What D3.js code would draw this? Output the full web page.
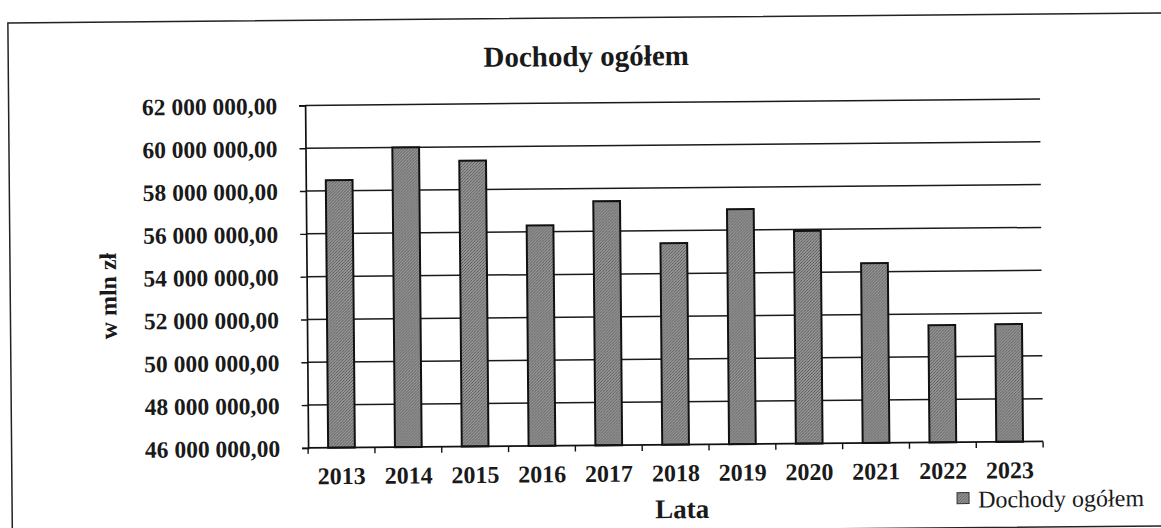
<!DOCTYPE html>
<html>
<head>
<meta charset="utf-8">
<script src="https://cdn.jsdelivr.net/npm/d3@7"></script>
<style>
  html, body { margin: 0; padding: 0; background: #fff; }
  svg { display: block; }
  text { font-family: "Liberation Serif", "Times New Roman", serif; fill: #1a1a1a; }
</style>
</head>
<body>
<svg id="chart" width="1161" height="528"></svg>
<script>
// ---- data ----
const years = ["2013", "2014", "2015", "2016", "2017", "2018", "2019", "2020", "2021", "2022", "2023"];
const dochody = [58500000, 60000000, 59350000, 56300000, 57400000, 55420000, 56980000, 55930000, 54400000, 51480000, 51500000];
const yTicks = [46000000, 48000000, 50000000, 52000000, 54000000, 56000000, 58000000, 60000000, 62000000];
const title = "Dochody ogółem";
const xTitle = "Lata";
const yTitle = "w mln zł";
const seriesName = "Dochody ogółem";

// ---- layout ----
const plot = { left: 306.5, right: 1041.5, top: 103, bottom: 445.5 };

const svg = d3.select("#chart");
const defs = svg.append("defs");
const pat = defs.append("pattern").attr("id", "stipple")
  .attr("width", 3).attr("height", 3).attr("patternUnits", "userSpaceOnUse");
pat.append("rect").attr("width", 3).attr("height", 3).attr("fill", "#969696");
pat.append("rect").attr("x", 0).attr("y", 0).attr("width", 1).attr("height", 1).attr("fill", "#555");
pat.append("rect").attr("x", 2).attr("y", 1).attr("width", 1).attr("height", 1).attr("fill", "#5e5e5e");
pat.append("rect").attr("x", 1).attr("y", 2).attr("width", 1).attr("height", 1).attr("fill", "#666");

// whole chart slightly rotated, like the scanned page
const g = svg.append("g").attr("transform", "rotate(-0.5, 580, 264)");

// outer frame
g.append("rect")
  .attr("x", 10).attr("y", 18).attr("width", 1185).attr("height", 513)
  .attr("fill", "none").attr("stroke", "#222").attr("stroke-width", 1.5);

const x = d3.scaleBand().domain(years)
  .range([plot.left, plot.right]).paddingInner(0.6).paddingOuter(0.3);
const y = d3.scaleLinear().domain([46000000, 62000000]).range([plot.bottom, plot.top]);

const pl = d3.formatLocale({ decimal: ",", thousands: " ", grouping: [3], currency: ["", ""] });
const fmt = pl.format(",.2f");

// gridlines
g.append("g").selectAll("line").data(yTicks.filter(d => d > 46000000)).join("line")
  .attr("x1", plot.left).attr("x2", plot.right)
  .attr("y1", d => y(d)).attr("y2", d => y(d))
  .attr("stroke", "#1a1a1a").attr("stroke-width", 1.5);

// bars
g.append("g").selectAll("rect").data(years).join("rect")
  .attr("x", d => x(d))
  .attr("width", x.bandwidth())
  .attr("y", (d, i) => y(dochody[i]))
  .attr("height", (d, i) => plot.bottom - y(dochody[i]))
  .attr("fill", "url(#stipple)")
  .attr("stroke", "#111").attr("stroke-width", 2);

// y axis
const yAxis = d3.axisLeft(y).tickValues(yTicks).tickFormat(fmt).tickSize(6).tickPadding(22);
const ya = g.append("g").attr("transform", `translate(${plot.left},0)`).call(yAxis);
ya.select(".domain").attr("stroke", "#111").attr("stroke-width", 1.7);
ya.selectAll(".tick line").attr("stroke", "#111").attr("stroke-width", 1.4);
ya.selectAll(".tick text")
  .style("font-family", '"Liberation Serif", "Times New Roman", serif')
  .style("font-size", "23.5px").style("font-weight", "bold").attr("fill", "#1a1a1a")
  .attr("dy", "0.34em");

// x axis: ticks at slot boundaries
const xa = g.append("g").attr("transform", `translate(0,${plot.bottom})`);
xa.append("line").attr("x1", plot.left).attr("x2", plot.right)
  .attr("stroke", "#111").attr("stroke-width", 1.7);
const bounds = d3.range(years.length + 1).map(i => plot.left + i * (plot.right - plot.left) / years.length);
xa.selectAll("line.tk").data(bounds).join("line").attr("class", "tk")
  .attr("x1", d => d).attr("x2", d => d).attr("y1", 0).attr("y2", 6)
  .attr("stroke", "#111").attr("stroke-width", 1.4);
xa.selectAll("text").data(years).join("text")
  .attr("x", d => x(d) + x.bandwidth() / 2)
  .attr("y", 36.5)
  .attr("text-anchor", "middle")
  .style("font-size", "24px").style("font-weight", "bold")
  .text(d => d);

// title
g.append("text").attr("x", 588).attr("y", 66).attr("text-anchor", "middle")
  .style("font-size", "29px").style("font-weight", "bold").text(title);

// axis titles
g.append("text").attr("x", 680).attr("y", 519).attr("text-anchor", "middle")
  .style("font-size", "27px").style("font-weight", "bold").text(xTitle);
g.append("text").attr("transform", "translate(116,292) rotate(-90)")
  .attr("text-anchor", "middle")
  .style("font-size", "24px").style("font-weight", "bold").text(yTitle);

// legend
const lg = g.append("g").attr("transform", "translate(955,496)");
lg.append("rect").attr("x", 0).attr("y", 0).attr("width", 12).attr("height", 11)
  .attr("fill", "url(#stipple)").attr("stroke", "#333").attr("stroke-width", 1);
lg.append("text").attr("x", 21).attr("y", 15)
  .style("font-size", "24px").style("font-weight", "normal").text(seriesName);
</script>
</body>
</html>
